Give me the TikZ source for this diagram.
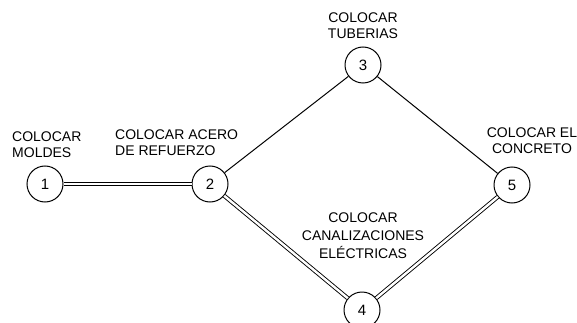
\documentclass[tikz,border=0pt]{standalone}
\usepackage{fontspec}
\setmainfont{Liberation Sans}
\begin{document}
\begin{tikzpicture}[x=1pt,y=-1pt,
        evento/.style={circle,draw,line width=1pt,minimum size=36pt,inner sep=0pt,font=\fontsize{15}{17}\selectfont},
        etiqueta/.style={inner sep=0pt,font=\fontsize{14}{16}\selectfont},
        critica/.style={double,double distance=2.4pt,line width=0.9pt},
        normal/.style={line width=1pt}]
        \useasboundingbox (0,0) rectangle (577,323);

        \node[evento] (n1) at (45,184) {1};
        \node[evento] (n2) at (210,184) {2};
        \node[evento] (n3) at (363,65) {3};
        \node[evento] (n4) at (362,310) {4};
        \node[evento] (n5) at (512,185) {5};

        \node[etiqueta,anchor=north west,align=left] (tmoldes) at (12,132) {COLOCAR\\MOLDES};
        \node[etiqueta,anchor=north west,align=left] (tacero) at (115,130) {COLOCAR ACERO\\DE REFUERZO};
        \node[etiqueta,anchor=north,align=center] (ttuberias) at (363,13) {COLOCAR\\TUBERIAS};
        \node[etiqueta,anchor=north,align=center] (tconcreto) at (532,128) {COLOCAR EL\\CONCRETO};
        \node[etiqueta,anchor=north,align=center,font=\fontsize{14}{18}\selectfont] (tcanal) at (363,213) {COLOCAR\\CANALIZACIONES\\ELÉCTRICAS};

        \draw[critica] (n1) -- (n2);
        \draw[critica] (n2) -- (n4);
        \draw[critica] (n4) -- (n5);
        \draw[normal] (n2) -- (n3);
        \draw[normal] (n3) -- (n5);
    \end{tikzpicture}
\end{document}
